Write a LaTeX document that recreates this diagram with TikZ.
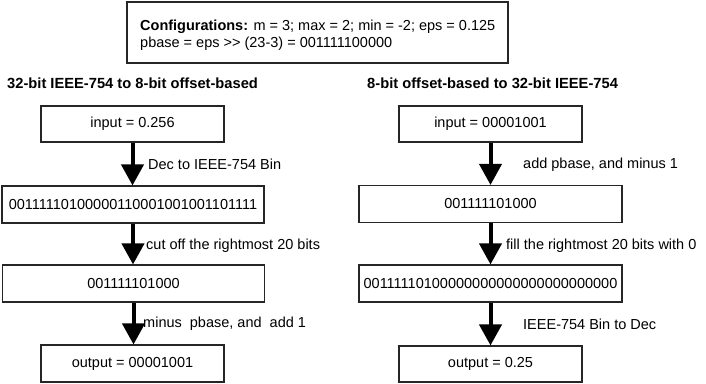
\documentclass[tikz,border=0pt]{standalone}
\usepackage{fontspec}
\setmainfont{Liberation Sans}
\usetikzlibrary{arrows.meta}
\begin{document}
\begin{tikzpicture}[x=1pt,y=-1pt,
  box/.style={draw=black!85,line width=1.1pt,inner sep=0pt,font=\fontsize{14.5}{17}\selectfont},
  sbox/.style={box,minimum width=183pt,minimum height=36pt},
  wbox/.style={box,minimum width=262pt,minimum height=37pt},
  title/.style={anchor=west,inner sep=0pt,font=\fontsize{14.7}{17}\selectfont\bfseries},
  lbl/.style={anchor=west,inner sep=0pt,font=\fontsize{14.5}{17}\selectfont},
  arr/.style={line width=4pt,-{Triangle[width=22pt,length=21pt]}}]
\useasboundingbox (0,0) rectangle (706,383);

\node[box,minimum width=381pt,minimum height=61pt] (cfg) at (317.5,32.5) {};
\node[anchor=base west,inner sep=0pt,font=\fontsize{14.5}{17}\selectfont] (cfg1) at (140,30)
  {\textbf{Configurations:} m = 3; max = 2; min = -2; eps = 0.125};
\node[anchor=base west,inner sep=0pt,font=\fontsize{14.5}{17}\selectfont] (cfg2) at (140,47)
  {pbase = eps >{}> (23-3) = 001111100000};

\node[title] (tl) at (7,83) {32-bit IEEE-754 to 8-bit offset-based};
\node[title] (tr) at (367,83) {8-bit offset-based to 32-bit IEEE-754};

\node[sbox] (l1) at (132.5,124) {input = 0.256};
\node[wbox] (l2) at (133,204.5) {00111110100000110001001001101111};
\node[wbox] (l3) at (133.5,283.5) {001111101000};
\node[sbox,minimum height=37pt] (l4) at (132.5,363.5) {output = 00001001};

\node[sbox] (r1) at (490.5,124) {input = 00001001};
\node[wbox,minimum width=263pt] (r2) at (490.5,204) {001111101000};
\node[wbox,minimum width=263pt] (r3) at (490.5,283.5) {00111110100000000000000000000000};
\node[sbox,minimum height=36pt] (r4) at (490.5,364) {output = 0.25};

\draw[arr] (l1.south) -- (l1.south |- l2.north);
\draw[arr] (l2.south) -- (l2.south |- l3.north);
\draw[arr] (l3.south) -- (l3.south |- l4.north);
\draw[arr] (r1.south) -- (r1.south |- r2.north);
\draw[arr] (r2.south) -- (r2.south |- r3.north);
\draw[arr] (r3.south) -- (r3.south |- r4.north);

\node[lbl] (a1) at (148,164) {Dec to IEEE-754 Bin};
\node[lbl] (a2) at (146,246) {cut off the rightmost 20 bits};
\node[lbl] (a3) at (143,324) {minus\ \ pbase, and\ \ add 1};
\node[lbl] (b1) at (523,165) {add pbase, and minus 1};
\node[lbl] (b2) at (506,246) {fill the rightmost 20 bits with 0};
\node[lbl] (b3) at (523,324) {IEEE-754 Bin to Dec};
\end{tikzpicture}
\end{document}
